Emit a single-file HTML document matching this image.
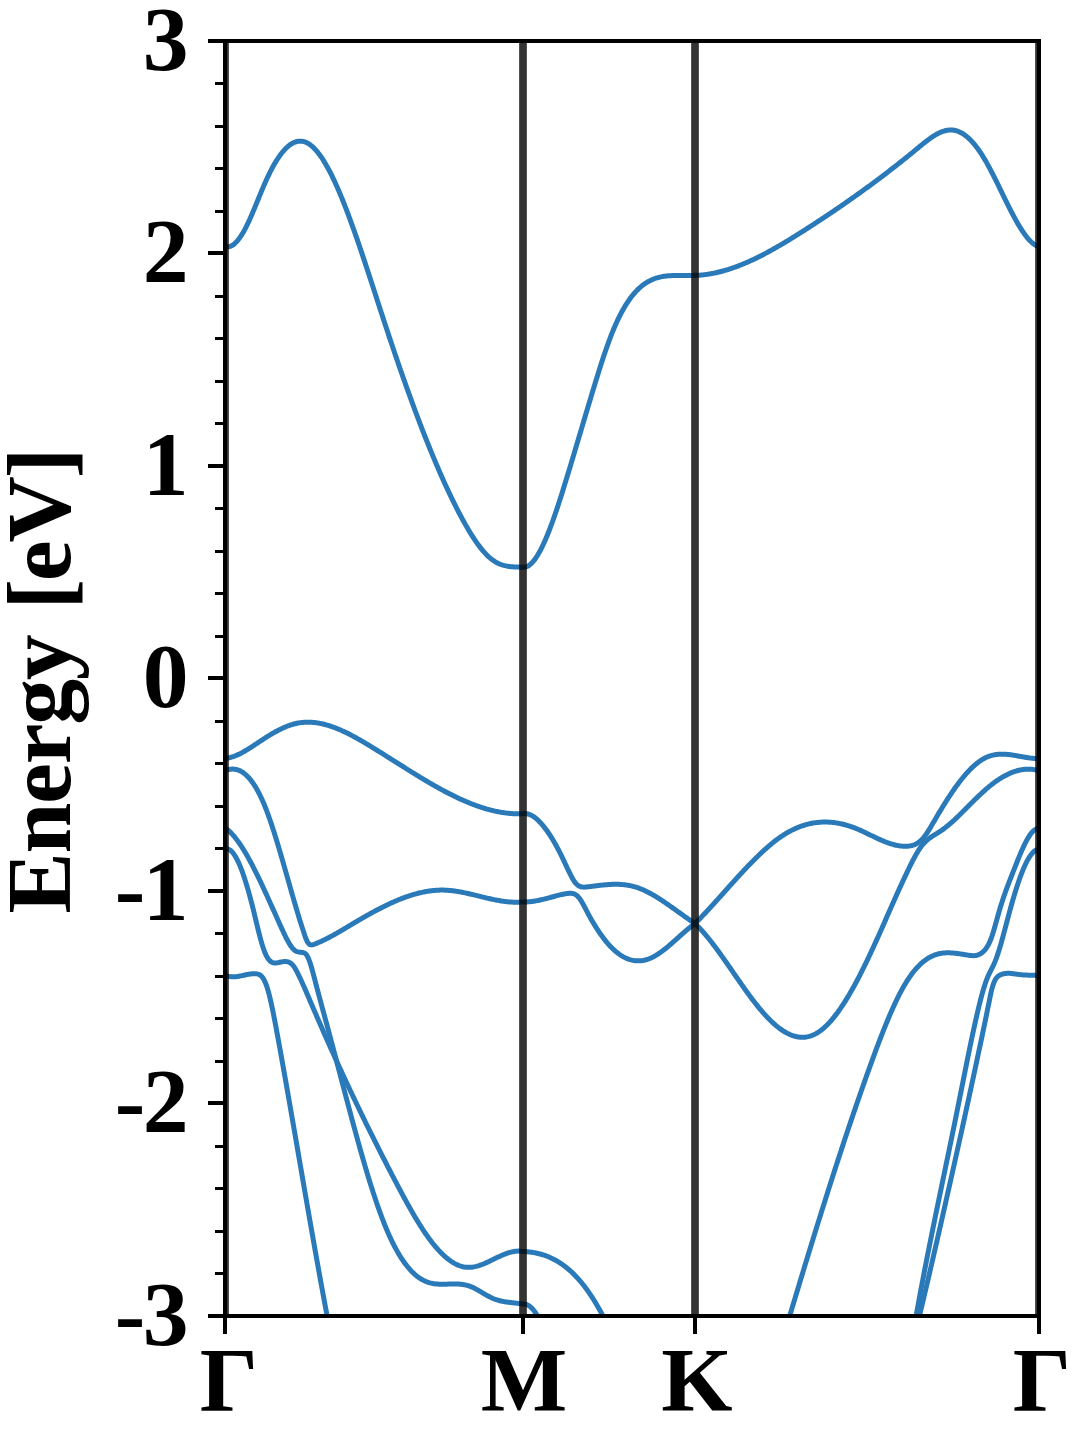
<!DOCTYPE html>
<html lang="en">
<head>
<meta charset="utf-8">
<title>Band structure</title>
<style>
html,body{margin:0;padding:0;background:#fff;}
body{width:1080px;height:1440px;overflow:hidden;}
svg{display:block;}
text{font-family:"Liberation Serif","DejaVu Serif",serif;font-weight:bold;fill:#000;}
</style>
</head>
<body>
<svg width="1080" height="1440" viewBox="0 0 1080 1440">
<rect width="1080" height="1440" fill="#fff"/>
<defs><clipPath id="ax"><rect x="225.5" y="41.0" width="813.0" height="1275.0"/></clipPath></defs>
<g clip-path="url(#ax)" fill="none" stroke="#2a7ab9" stroke-width="5.0" stroke-linejoin="round" stroke-linecap="butt">
<path d="M225,246.35 L226,246.64 L227,246.78 L228,246.80 L229,246.68 L230,246.42 L231,246.04 L232,245.54 L233,244.91 L234,244.17 L235,243.31 L236,242.33 L237,241.25 L238,240.07 L239,238.78 L240,237.39 L241,235.91 L242,234.33 L243,232.66 L244,230.91 L245,229.07 L246,227.15 L247,225.15 L248,223.08 L249,220.94 L250,218.74 L251,216.49 L252,214.18 L253,211.83 L254,209.45 L255,207.04 L256,204.62 L257,202.17 L258,199.72 L259,197.27 L260,194.83 L261,192.40 L262,190.00 L263,187.62 L264,185.27 L265,182.97 L266,180.72 L267,178.52 L268,176.38 L269,174.30 L270,172.27 L271,170.31 L272,168.41 L273,166.56 L274,164.78 L275,163.06 L276,161.39 L277,159.79 L278,158.26 L279,156.78 L280,155.37 L281,154.03 L282,152.74 L283,151.52 L284,150.37 L285,149.28 L286,148.26 L287,147.30 L288,146.42 L289,145.59 L290,144.84 L291,144.15 L292,143.54 L293,142.99 L294,142.51 L295,142.10 L296,141.77 L297,141.50 L298,141.30 L299,141.18 L300,141.13 L301,141.15 L302,141.24 L303,141.41 L304,141.65 L305,141.97 L306,142.36 L307,142.83 L308,143.37 L309,143.99 L310,144.68 L311,145.43 L312,146.26 L313,147.16 L314,148.13 L315,149.17 L316,150.27 L317,151.43 L318,152.66 L319,153.95 L320,155.31 L321,156.72 L322,158.20 L323,159.73 L324,161.32 L325,162.97 L326,164.67 L327,166.43 L328,168.24 L329,170.10 L330,172.01 L331,173.97 L332,175.98 L333,178.04 L334,180.15 L335,182.30 L336,184.49 L337,186.73 L338,189.01 L339,191.33 L340,193.70 L341,196.10 L342,198.54 L343,201.01 L344,203.52 L345,206.07 L346,208.65 L347,211.26 L348,213.91 L349,216.58 L350,219.29 L351,222.02 L352,224.78 L353,227.56 L354,230.37 L355,233.21 L356,236.07 L357,238.94 L358,241.84 L359,244.76 L360,247.70 L361,250.66 L362,253.63 L363,256.61 L364,259.62 L365,262.63 L366,265.66 L367,268.69 L368,271.74 L369,274.79 L370,277.86 L371,280.93 L372,284.00 L373,287.08 L374,290.17 L375,293.25 L376,296.34 L377,299.43 L378,302.51 L379,305.59 L380,308.68 L381,311.75 L382,314.82 L383,317.89 L384,320.95 L385,323.99 L386,327.03 L387,330.06 L388,333.08 L389,336.09 L390,339.09 L391,342.08 L392,345.06 L393,348.03 L394,350.98 L395,353.93 L396,356.87 L397,359.79 L398,362.70 L399,365.60 L400,368.49 L401,371.37 L402,374.23 L403,377.09 L404,379.93 L405,382.76 L406,385.57 L407,388.37 L408,391.16 L409,393.94 L410,396.70 L411,399.45 L412,402.19 L413,404.91 L414,407.62 L415,410.32 L416,413.00 L417,415.66 L418,418.32 L419,420.95 L420,423.58 L421,426.18 L422,428.78 L423,431.35 L424,433.92 L425,436.46 L426,438.99 L427,441.51 L428,444.01 L429,446.49 L430,448.96 L431,451.41 L432,453.84 L433,456.26 L434,458.66 L435,461.04 L436,463.41 L437,465.76 L438,468.09 L439,470.40 L440,472.70 L441,474.98 L442,477.24 L443,479.48 L444,481.70 L445,483.91 L446,486.09 L447,488.26 L448,490.41 L449,492.54 L450,494.65 L451,496.74 L452,498.81 L453,500.86 L454,502.89 L455,504.91 L456,506.90 L457,508.87 L458,510.82 L459,512.75 L460,514.66 L461,516.54 L462,518.41 L463,520.25 L464,522.06 L465,523.85 L466,525.62 L467,527.36 L468,529.07 L469,530.75 L470,532.40 L471,534.02 L472,535.61 L473,537.17 L474,538.70 L475,540.19 L476,541.65 L477,543.07 L478,544.45 L479,545.80 L480,547.11 L481,548.38 L482,549.61 L483,550.80 L484,551.95 L485,553.06 L486,554.12 L487,555.14 L488,556.12 L489,557.05 L490,557.93 L491,558.76 L492,559.55 L493,560.29 L494,560.98 L495,561.61 L496,562.20 L497,562.75 L498,563.25 L499,563.70 L500,564.12 L501,564.50 L502,564.84 L503,565.15 L504,565.43 L505,565.68 L506,565.90 L507,566.09 L508,566.26 L509,566.41 L510,566.53 L511,566.64 L512,566.74 L513,566.82 L514,566.89 L515,566.94 L516,567.00 L517,567.04 L518,567.08 L519,567.12 L520,567.16 L521,567.20 L522,567.25 L523,567.30 L524,567.31 L525,567.19 L526,566.93 L527,566.54 L528,566.03 L529,565.39 L530,564.63 L531,563.76 L532,562.77 L533,561.66 L534,560.45 L535,559.13 L536,557.70 L537,556.18 L538,554.55 L539,552.83 L540,551.02 L541,549.11 L542,547.12 L543,545.04 L544,542.89 L545,540.65 L546,538.34 L547,535.95 L548,533.49 L549,530.96 L550,528.37 L551,525.72 L552,523.01 L553,520.24 L554,517.41 L555,514.54 L556,511.61 L557,508.65 L558,505.63 L559,502.58 L560,499.49 L561,496.37 L562,493.21 L563,490.03 L564,486.82 L565,483.59 L566,480.33 L567,477.06 L568,473.77 L569,470.47 L570,467.17 L571,463.85 L572,460.52 L573,457.19 L574,453.85 L575,450.50 L576,447.15 L577,443.80 L578,440.44 L579,437.08 L580,433.72 L581,430.36 L582,426.99 L583,423.63 L584,420.27 L585,416.92 L586,413.56 L587,410.21 L588,406.87 L589,403.53 L590,400.20 L591,396.88 L592,393.56 L593,390.26 L594,386.96 L595,383.68 L596,380.42 L597,377.18 L598,373.96 L599,370.77 L600,367.61 L601,364.48 L602,361.39 L603,358.34 L604,355.33 L605,352.37 L606,349.46 L607,346.60 L608,343.79 L609,341.04 L610,338.36 L611,335.74 L612,333.19 L613,330.70 L614,328.29 L615,325.96 L616,323.69 L617,321.49 L618,319.36 L619,317.29 L620,315.30 L621,313.36 L622,311.49 L623,309.68 L624,307.94 L625,306.25 L626,304.63 L627,303.06 L628,301.55 L629,300.09 L630,298.69 L631,297.35 L632,296.06 L633,294.82 L634,293.63 L635,292.49 L636,291.40 L637,290.35 L638,289.36 L639,288.40 L640,287.50 L641,286.63 L642,285.81 L643,285.03 L644,284.29 L645,283.59 L646,282.93 L647,282.31 L648,281.72 L649,281.16 L650,280.64 L651,280.15 L652,279.70 L653,279.27 L654,278.87 L655,278.50 L656,278.16 L657,277.85 L658,277.56 L659,277.30 L660,277.06 L661,276.84 L662,276.64 L663,276.46 L664,276.30 L665,276.16 L666,276.04 L667,275.93 L668,275.84 L669,275.76 L670,275.70 L671,275.65 L672,275.61 L673,275.57 L674,275.55 L675,275.53 L676,275.52 L677,275.52 L678,275.52 L679,275.53 L680,275.54 L681,275.55 L682,275.56 L683,275.56 L684,275.57 L685,275.58 L686,275.58 L687,275.58 L688,275.57 L689,275.55 L690,275.53 L691,275.50 L692,275.45 L693,275.40 L694,275.34 L695,275.26 L696,275.40 L697,275.35 L698,275.29 L699,275.23 L700,275.15 L701,275.07 L702,274.98 L703,274.87 L704,274.76 L705,274.64 L706,274.51 L707,274.37 L708,274.22 L709,274.07 L710,273.90 L711,273.73 L712,273.54 L713,273.35 L714,273.15 L715,272.94 L716,272.73 L717,272.50 L718,272.27 L719,272.03 L720,271.78 L721,271.53 L722,271.26 L723,270.99 L724,270.71 L725,270.42 L726,270.13 L727,269.83 L728,269.52 L729,269.20 L730,268.88 L731,268.55 L732,268.21 L733,267.87 L734,267.51 L735,267.16 L736,266.79 L737,266.42 L738,266.04 L739,265.66 L740,265.27 L741,264.87 L742,264.47 L743,264.06 L744,263.64 L745,263.22 L746,262.79 L747,262.36 L748,261.92 L749,261.48 L750,261.03 L751,260.57 L752,260.11 L753,259.64 L754,259.17 L755,258.69 L756,258.21 L757,257.72 L758,257.23 L759,256.73 L760,256.23 L761,255.72 L762,255.21 L763,254.70 L764,254.17 L765,253.65 L766,253.12 L767,252.59 L768,252.05 L769,251.51 L770,250.96 L771,250.41 L772,249.86 L773,249.30 L774,248.74 L775,248.17 L776,247.60 L777,247.03 L778,246.45 L779,245.87 L780,245.29 L781,244.71 L782,244.12 L783,243.52 L784,242.93 L785,242.33 L786,241.73 L787,241.13 L788,240.52 L789,239.91 L790,239.30 L791,238.69 L792,238.07 L793,237.45 L794,236.83 L795,236.21 L796,235.59 L797,234.96 L798,234.33 L799,233.70 L800,233.07 L801,232.44 L802,231.80 L803,231.16 L804,230.53 L805,229.89 L806,229.25 L807,228.60 L808,227.96 L809,227.32 L810,226.67 L811,226.02 L812,225.38 L813,224.73 L814,224.08 L815,223.42 L816,222.77 L817,222.12 L818,221.46 L819,220.81 L820,220.15 L821,219.49 L822,218.83 L823,218.17 L824,217.50 L825,216.84 L826,216.17 L827,215.51 L828,214.84 L829,214.17 L830,213.50 L831,212.82 L832,212.15 L833,211.47 L834,210.80 L835,210.12 L836,209.44 L837,208.76 L838,208.08 L839,207.39 L840,206.71 L841,206.02 L842,205.33 L843,204.64 L844,203.95 L845,203.26 L846,202.56 L847,201.87 L848,201.17 L849,200.47 L850,199.77 L851,199.07 L852,198.36 L853,197.66 L854,196.95 L855,196.24 L856,195.53 L857,194.82 L858,194.10 L859,193.39 L860,192.67 L861,191.95 L862,191.23 L863,190.51 L864,189.79 L865,189.06 L866,188.34 L867,187.61 L868,186.88 L869,186.14 L870,185.41 L871,184.67 L872,183.94 L873,183.20 L874,182.46 L875,181.71 L876,180.97 L877,180.22 L878,179.47 L879,178.72 L880,177.97 L881,177.22 L882,176.46 L883,175.71 L884,174.95 L885,174.19 L886,173.42 L887,172.66 L888,171.89 L889,171.12 L890,170.35 L891,169.58 L892,168.80 L893,168.03 L894,167.25 L895,166.47 L896,165.68 L897,164.90 L898,164.11 L899,163.32 L900,162.53 L901,161.74 L902,160.95 L903,160.15 L904,159.35 L905,158.55 L906,157.75 L907,156.94 L908,156.13 L909,155.33 L910,154.51 L911,153.70 L912,152.88 L913,152.07 L914,151.25 L915,150.43 L916,149.60 L917,148.77 L918,147.95 L919,147.12 L920,146.30 L921,145.47 L922,144.66 L923,143.85 L924,143.05 L925,142.25 L926,141.47 L927,140.70 L928,139.95 L929,139.21 L930,138.49 L931,137.78 L932,137.10 L933,136.44 L934,135.80 L935,135.19 L936,134.60 L937,134.04 L938,133.51 L939,133.01 L940,132.54 L941,132.11 L942,131.71 L943,131.35 L944,131.03 L945,130.74 L946,130.50 L947,130.30 L948,130.15 L949,130.04 L950,129.98 L951,129.97 L952,130.00 L953,130.09 L954,130.24 L955,130.43 L956,130.68 L957,130.98 L958,131.33 L959,131.73 L960,132.19 L961,132.69 L962,133.25 L963,133.86 L964,134.52 L965,135.23 L966,135.99 L967,136.81 L968,137.67 L969,138.58 L970,139.54 L971,140.56 L972,141.62 L973,142.73 L974,143.89 L975,145.10 L976,146.36 L977,147.67 L978,149.03 L979,150.44 L980,151.89 L981,153.40 L982,154.95 L983,156.55 L984,158.19 L985,159.88 L986,161.61 L987,163.39 L988,165.19 L989,167.03 L990,168.91 L991,170.81 L992,172.74 L993,174.69 L994,176.66 L995,178.66 L996,180.67 L997,182.69 L998,184.72 L999,186.77 L1000,188.82 L1001,190.87 L1002,192.93 L1003,194.98 L1004,197.03 L1005,199.07 L1006,201.11 L1007,203.13 L1008,205.14 L1009,207.13 L1010,209.11 L1011,211.06 L1012,212.99 L1013,214.89 L1014,216.76 L1015,218.61 L1016,220.41 L1017,222.19 L1018,223.92 L1019,225.61 L1020,227.25 L1021,228.85 L1022,230.41 L1023,231.90 L1024,233.35 L1025,234.74 L1026,236.07 L1027,237.33 L1028,238.53 L1029,239.67 L1030,240.74 L1031,241.73 L1032,242.65 L1033,243.49 L1034,244.26 L1035,244.94 L1036,245.54 L1037,246.05 L1038,246.47 L1039,246.80"/>
<path d="M226,758.36 L227,758.20 L228,758.02 L229,757.80 L230,757.56 L231,757.28 L232,756.98 L233,756.65 L234,756.30 L235,755.92 L236,755.52 L237,755.09 L238,754.64 L239,754.17 L240,753.69 L241,753.18 L242,752.66 L243,752.11 L244,751.56 L245,750.99 L246,750.40 L247,749.81 L248,749.20 L249,748.58 L250,747.95 L251,747.31 L252,746.67 L253,746.02 L254,745.36 L255,744.70 L256,744.03 L257,743.37 L258,742.70 L259,742.03 L260,741.36 L261,740.70 L262,740.04 L263,739.38 L264,738.72 L265,738.07 L266,737.43 L267,736.80 L268,736.17 L269,735.55 L270,734.94 L271,734.34 L272,733.75 L273,733.16 L274,732.59 L275,732.03 L276,731.48 L277,730.94 L278,730.42 L279,729.90 L280,729.40 L281,728.91 L282,728.44 L283,727.98 L284,727.53 L285,727.10 L286,726.69 L287,726.29 L288,725.91 L289,725.54 L290,725.19 L291,724.86 L292,724.55 L293,724.26 L294,723.98 L295,723.73 L296,723.49 L297,723.27 L298,723.08 L299,722.90 L300,722.75 L301,722.61 L302,722.49 L303,722.40 L304,722.32 L305,722.26 L306,722.21 L307,722.19 L308,722.18 L309,722.19 L310,722.22 L311,722.26 L312,722.32 L313,722.40 L314,722.49 L315,722.60 L316,722.73 L317,722.87 L318,723.03 L319,723.20 L320,723.38 L321,723.58 L322,723.80 L323,724.03 L324,724.27 L325,724.52 L326,724.79 L327,725.08 L328,725.37 L329,725.68 L330,726.00 L331,726.33 L332,726.67 L333,727.03 L334,727.39 L335,727.77 L336,728.16 L337,728.55 L338,728.96 L339,729.38 L340,729.81 L341,730.25 L342,730.69 L343,731.15 L344,731.61 L345,732.09 L346,732.57 L347,733.06 L348,733.56 L349,734.06 L350,734.57 L351,735.09 L352,735.62 L353,736.15 L354,736.69 L355,737.23 L356,737.78 L357,738.34 L358,738.90 L359,739.47 L360,740.04 L361,740.62 L362,741.20 L363,741.78 L364,742.37 L365,742.96 L366,743.55 L367,744.15 L368,744.75 L369,745.36 L370,745.96 L371,746.57 L372,747.18 L373,747.79 L374,748.40 L375,749.02 L376,749.64 L377,750.25 L378,750.87 L379,751.50 L380,752.12 L381,752.74 L382,753.37 L383,753.99 L384,754.62 L385,755.25 L386,755.88 L387,756.51 L388,757.14 L389,757.77 L390,758.40 L391,759.03 L392,759.66 L393,760.29 L394,760.93 L395,761.56 L396,762.19 L397,762.82 L398,763.46 L399,764.09 L400,764.72 L401,765.35 L402,765.98 L403,766.61 L404,767.24 L405,767.87 L406,768.50 L407,769.13 L408,769.75 L409,770.38 L410,771.00 L411,771.62 L412,772.25 L413,772.87 L414,773.48 L415,774.10 L416,774.72 L417,775.33 L418,775.94 L419,776.55 L420,777.16 L421,777.77 L422,778.37 L423,778.97 L424,779.57 L425,780.17 L426,780.76 L427,781.35 L428,781.94 L429,782.53 L430,783.11 L431,783.69 L432,784.27 L433,784.85 L434,785.42 L435,785.99 L436,786.55 L437,787.11 L438,787.67 L439,788.23 L440,788.78 L441,789.33 L442,789.87 L443,790.41 L444,790.94 L445,791.48 L446,792.00 L447,792.53 L448,793.05 L449,793.56 L450,794.07 L451,794.58 L452,795.08 L453,795.58 L454,796.07 L455,796.55 L456,797.04 L457,797.51 L458,797.99 L459,798.45 L460,798.91 L461,799.37 L462,799.82 L463,800.26 L464,800.70 L465,801.14 L466,801.57 L467,801.99 L468,802.40 L469,802.81 L470,803.22 L471,803.62 L472,804.01 L473,804.39 L474,804.77 L475,805.15 L476,805.51 L477,805.87 L478,806.22 L479,806.57 L480,806.91 L481,807.24 L482,807.56 L483,807.88 L484,808.19 L485,808.49 L486,808.79 L487,809.08 L488,809.36 L489,809.63 L490,809.89 L491,810.15 L492,810.40 L493,810.64 L494,810.87 L495,811.10 L496,811.32 L497,811.52 L498,811.72 L499,811.92 L500,812.10 L501,812.27 L502,812.44 L503,812.59 L504,812.74 L505,812.88 L506,813.01 L507,813.13 L508,813.24 L509,813.35 L510,813.44 L511,813.52 L512,813.59 L513,813.66 L514,813.71 L515,813.76 L516,813.79 L517,813.82 L518,813.83 L519,813.83 L520,813.83 L521,813.81 L522,813.79 L523,813.75 L524,813.60 L525,813.57 L526,813.63 L527,813.77 L528,813.99 L529,814.29 L530,814.66 L531,815.11 L532,815.63 L533,816.23 L534,816.89 L535,817.62 L536,818.41 L537,819.27 L538,820.19 L539,821.16 L540,822.19 L541,823.28 L542,824.42 L543,825.61 L544,826.85 L545,828.13 L546,829.46 L547,830.84 L548,832.26 L549,833.73 L550,835.24 L551,836.80 L552,838.40 L553,840.05 L554,841.75 L555,843.49 L556,845.27 L557,847.11 L558,848.98 L559,850.90 L560,852.87 L561,854.88 L562,856.93 L563,859.02 L564,861.13 L565,863.25 L566,865.38 L567,867.50 L568,869.60 L569,871.68 L570,873.72 L571,875.70 L572,877.58 L573,879.34 L574,880.95 L575,882.37 L576,883.58 L577,884.58 L578,885.38 L579,886.01 L580,886.47 L581,886.80 L582,887.01 L583,887.11 L584,887.14 L585,887.10 L586,887.01 L587,886.90 L588,886.79 L589,886.66 L590,886.54 L591,886.42 L592,886.30 L593,886.17 L594,886.05 L595,885.92 L596,885.80 L597,885.68 L598,885.56 L599,885.44 L600,885.33 L601,885.22 L602,885.11 L603,885.01 L604,884.92 L605,884.82 L606,884.74 L607,884.66 L608,884.59 L609,884.52 L610,884.46 L611,884.41 L612,884.37 L613,884.34 L614,884.32 L615,884.30 L616,884.30 L617,884.31 L618,884.33 L619,884.36 L620,884.41 L621,884.46 L622,884.53 L623,884.62 L624,884.71 L625,884.83 L626,884.95 L627,885.10 L628,885.26 L629,885.43 L630,885.63 L631,885.84 L632,886.06 L633,886.31 L634,886.58 L635,886.86 L636,887.17 L637,887.49 L638,887.83 L639,888.19 L640,888.57 L641,888.97 L642,889.38 L643,889.81 L644,890.26 L645,890.72 L646,891.20 L647,891.69 L648,892.19 L649,892.71 L650,893.24 L651,893.79 L652,894.35 L653,894.92 L654,895.50 L655,896.09 L656,896.69 L657,897.31 L658,897.93 L659,898.56 L660,899.20 L661,899.85 L662,900.50 L663,901.17 L664,901.84 L665,902.52 L666,903.20 L667,903.89 L668,904.58 L669,905.28 L670,905.98 L671,906.68 L672,907.39 L673,908.10 L674,908.81 L675,909.53 L676,910.24 L677,910.96 L678,911.68 L679,912.39 L680,913.11 L681,913.83 L682,914.54 L683,915.25 L684,915.96 L685,916.67 L686,917.37 L687,918.07 L688,918.76 L689,919.45 L690,920.14 L691,920.82 L692,921.49 L693,922.16 L694,922.82 L695,923.47 L696,924.47 L697,925.46 L698,926.47 L699,927.50 L700,928.55 L701,929.63 L702,930.74 L703,931.86 L704,933.00 L705,934.17 L706,935.35 L707,936.55 L708,937.77 L709,939.01 L710,940.26 L711,941.53 L712,942.82 L713,944.12 L714,945.43 L715,946.76 L716,948.10 L717,949.45 L718,950.82 L719,952.19 L720,953.57 L721,954.97 L722,956.37 L723,957.78 L724,959.19 L725,960.61 L726,962.04 L727,963.47 L728,964.91 L729,966.35 L730,967.79 L731,969.24 L732,970.69 L733,972.14 L734,973.58 L735,975.03 L736,976.48 L737,977.92 L738,979.36 L739,980.80 L740,982.24 L741,983.67 L742,985.09 L743,986.51 L744,987.92 L745,989.33 L746,990.73 L747,992.11 L748,993.49 L749,994.86 L750,996.22 L751,997.56 L752,998.90 L753,1000.22 L754,1001.52 L755,1002.81 L756,1004.09 L757,1005.35 L758,1006.60 L759,1007.83 L760,1009.04 L761,1010.23 L762,1011.40 L763,1012.56 L764,1013.69 L765,1014.80 L766,1015.89 L767,1016.96 L768,1018.01 L769,1019.03 L770,1020.03 L771,1021.01 L772,1021.97 L773,1022.90 L774,1023.80 L775,1024.68 L776,1025.53 L777,1026.36 L778,1027.16 L779,1027.94 L780,1028.68 L781,1029.40 L782,1030.09 L783,1030.76 L784,1031.39 L785,1031.99 L786,1032.57 L787,1033.11 L788,1033.62 L789,1034.10 L790,1034.55 L791,1034.96 L792,1035.35 L793,1035.70 L794,1036.01 L795,1036.30 L796,1036.54 L797,1036.76 L798,1036.94 L799,1037.08 L800,1037.18 L801,1037.25 L802,1037.28 L803,1037.28 L804,1037.24 L805,1037.15 L806,1037.03 L807,1036.87 L808,1036.67 L809,1036.43 L810,1036.15 L811,1035.83 L812,1035.47 L813,1035.06 L814,1034.61 L815,1034.12 L816,1033.59 L817,1033.01 L818,1032.39 L819,1031.73 L820,1031.03 L821,1030.29 L822,1029.51 L823,1028.68 L824,1027.82 L825,1026.92 L826,1025.98 L827,1025.01 L828,1023.99 L829,1022.94 L830,1021.85 L831,1020.73 L832,1019.57 L833,1018.38 L834,1017.15 L835,1015.89 L836,1014.60 L837,1013.27 L838,1011.91 L839,1010.52 L840,1009.10 L841,1007.65 L842,1006.17 L843,1004.65 L844,1003.11 L845,1001.54 L846,999.94 L847,998.32 L848,996.66 L849,994.98 L850,993.28 L851,991.55 L852,989.79 L853,988.01 L854,986.20 L855,984.37 L856,982.52 L857,980.64 L858,978.74 L859,976.82 L860,974.88 L861,972.92 L862,970.94 L863,968.94 L864,966.92 L865,964.88 L866,962.82 L867,960.75 L868,958.65 L869,956.55 L870,954.42 L871,952.28 L872,950.13 L873,947.96 L874,945.77 L875,943.58 L876,941.37 L877,939.15 L878,936.92 L879,934.69 L880,932.44 L881,930.19 L882,927.94 L883,925.67 L884,923.41 L885,921.14 L886,918.87 L887,916.60 L888,914.33 L889,912.06 L890,909.79 L891,907.52 L892,905.25 L893,903.00 L894,900.74 L895,898.50 L896,896.26 L897,894.02 L898,891.80 L899,889.59 L900,887.39 L901,885.20 L902,883.02 L903,880.86 L904,878.71 L905,876.58 L906,874.46 L907,872.37 L908,870.29 L909,868.23 L910,866.19 L911,864.17 L912,862.18 L913,860.22 L914,858.30 L915,856.43 L916,854.62 L917,852.88 L918,851.22 L919,849.64 L920,848.15 L921,846.76 L922,845.47 L923,844.27 L924,843.15 L925,842.11 L926,841.13 L927,840.23 L928,839.38 L929,838.59 L930,837.84 L931,837.13 L932,836.45 L933,835.80 L934,835.17 L935,834.55 L936,833.94 L937,833.33 L938,832.72 L939,832.09 L940,831.44 L941,830.78 L942,830.08 L943,829.37 L944,828.63 L945,827.87 L946,827.09 L947,826.29 L948,825.48 L949,824.64 L950,823.79 L951,822.92 L952,822.04 L953,821.14 L954,820.23 L955,819.31 L956,818.38 L957,817.43 L958,816.48 L959,815.51 L960,814.54 L961,813.56 L962,812.57 L963,811.58 L964,810.59 L965,809.58 L966,808.58 L967,807.58 L968,806.57 L969,805.56 L970,804.56 L971,803.55 L972,802.55 L973,801.55 L974,800.56 L975,799.57 L976,798.58 L977,797.60 L978,796.63 L979,795.67 L980,794.72 L981,793.78 L982,792.84 L983,791.92 L984,791.02 L985,790.12 L986,789.24 L987,788.38 L988,787.53 L989,786.70 L990,785.88 L991,785.08 L992,784.30 L993,783.53 L994,782.78 L995,782.04 L996,781.32 L997,780.63 L998,779.94 L999,779.28 L1000,778.64 L1001,778.01 L1002,777.40 L1003,776.82 L1004,776.25 L1005,775.70 L1006,775.17 L1007,774.66 L1008,774.18 L1009,773.71 L1010,773.26 L1011,772.84 L1012,772.44 L1013,772.06 L1014,771.70 L1015,771.36 L1016,771.05 L1017,770.76 L1018,770.50 L1019,770.25 L1020,770.03 L1021,769.84 L1022,769.67 L1023,769.52 L1024,769.40 L1025,769.30 L1026,769.23 L1027,769.19 L1028,769.17 L1029,769.17 L1030,769.21 L1031,769.27 L1032,769.35 L1033,769.47 L1034,769.61 L1035,769.78 L1036,769.98 L1037,770.20 L1038,770.46 L1039,770.74"/>
<path d="M226,770.30 L227,769.96 L228,769.67 L229,769.43 L230,769.26 L231,769.14 L232,769.08 L233,769.08 L234,769.14 L235,769.26 L236,769.44 L237,769.69 L238,770.00 L239,770.38 L240,770.83 L241,771.34 L242,771.92 L243,772.57 L244,773.29 L245,774.09 L246,774.95 L247,775.89 L248,776.91 L249,778.00 L250,779.16 L251,780.41 L252,781.73 L253,783.13 L254,784.61 L255,786.17 L256,787.82 L257,789.55 L258,791.36 L259,793.26 L260,795.25 L261,797.32 L262,799.48 L263,801.73 L264,804.07 L265,806.51 L266,809.03 L267,811.64 L268,814.34 L269,817.11 L270,819.97 L271,822.89 L272,825.88 L273,828.94 L274,832.05 L275,835.23 L276,838.45 L277,841.72 L278,845.03 L279,848.38 L280,851.77 L281,855.19 L282,858.64 L283,862.11 L284,865.59 L285,869.10 L286,872.61 L287,876.13 L288,879.65 L289,883.17 L290,886.69 L291,890.20 L292,893.69 L293,897.16 L294,900.61 L295,904.04 L296,907.44 L297,910.80 L298,914.12 L299,917.40 L300,920.64 L301,923.82 L302,926.96 L303,930.05 L304,933.08 L305,936.06 L306,938.82 L307,941.09 L308,942.75 L309,943.88 L310,944.56 L311,944.86 L312,944.88 L313,944.68 L314,944.36 L315,943.97 L316,943.58 L317,943.17 L318,942.75 L319,942.32 L320,941.88 L321,941.43 L322,940.96 L323,940.49 L324,940.01 L325,939.52 L326,939.02 L327,938.52 L328,938.00 L329,937.48 L330,936.95 L331,936.41 L332,935.87 L333,935.32 L334,934.76 L335,934.20 L336,933.64 L337,933.07 L338,932.49 L339,931.91 L340,931.33 L341,930.75 L342,930.16 L343,929.57 L344,928.98 L345,928.38 L346,927.78 L347,927.19 L348,926.59 L349,925.99 L350,925.39 L351,924.80 L352,924.20 L353,923.60 L354,923.01 L355,922.42 L356,921.83 L357,921.24 L358,920.65 L359,920.06 L360,919.48 L361,918.90 L362,918.32 L363,917.74 L364,917.17 L365,916.60 L366,916.03 L367,915.46 L368,914.90 L369,914.34 L370,913.79 L371,913.23 L372,912.69 L373,912.14 L374,911.60 L375,911.06 L376,910.53 L377,910.00 L378,909.47 L379,908.95 L380,908.43 L381,907.92 L382,907.41 L383,906.91 L384,906.41 L385,905.92 L386,905.43 L387,904.95 L388,904.47 L389,904.00 L390,903.54 L391,903.08 L392,902.63 L393,902.18 L394,901.74 L395,901.30 L396,900.87 L397,900.45 L398,900.03 L399,899.62 L400,899.22 L401,898.83 L402,898.44 L403,898.06 L404,897.68 L405,897.32 L406,896.96 L407,896.61 L408,896.27 L409,895.93 L410,895.60 L411,895.28 L412,894.97 L413,894.67 L414,894.38 L415,894.09 L416,893.82 L417,893.55 L418,893.29 L419,893.04 L420,892.80 L421,892.57 L422,892.35 L423,892.14 L424,891.94 L425,891.74 L426,891.56 L427,891.39 L428,891.23 L429,891.08 L430,890.94 L431,890.80 L432,890.69 L433,890.58 L434,890.48 L435,890.39 L436,890.31 L437,890.25 L438,890.20 L439,890.15 L440,890.12 L441,890.11 L442,890.10 L443,890.10 L444,890.12 L445,890.15 L446,890.19 L447,890.25 L448,890.31 L449,890.39 L450,890.48 L451,890.58 L452,890.68 L453,890.80 L454,890.93 L455,891.07 L456,891.21 L457,891.37 L458,891.53 L459,891.70 L460,891.87 L461,892.06 L462,892.25 L463,892.44 L464,892.65 L465,892.85 L466,893.07 L467,893.28 L468,893.51 L469,893.73 L470,893.96 L471,894.19 L472,894.43 L473,894.67 L474,894.91 L475,895.15 L476,895.40 L477,895.64 L478,895.89 L479,896.13 L480,896.38 L481,896.62 L482,896.87 L483,897.11 L484,897.36 L485,897.60 L486,897.84 L487,898.07 L488,898.31 L489,898.54 L490,898.76 L491,898.99 L492,899.20 L493,899.42 L494,899.63 L495,899.83 L496,900.03 L497,900.22 L498,900.41 L499,900.58 L500,900.75 L501,900.92 L502,901.07 L503,901.22 L504,901.36 L505,901.49 L506,901.61 L507,901.72 L508,901.82 L509,901.91 L510,901.99 L511,902.06 L512,902.11 L513,902.16 L514,902.19 L515,902.21 L516,902.22 L517,902.21 L518,902.19 L519,902.16 L520,902.11 L521,902.04 L522,901.97 L523,901.87 L524,901.96 L525,901.96 L526,901.94 L527,901.90 L528,901.84 L529,901.77 L530,901.68 L531,901.58 L532,901.46 L533,901.32 L534,901.17 L535,901.01 L536,900.84 L537,900.65 L538,900.46 L539,900.25 L540,900.04 L541,899.81 L542,899.58 L543,899.34 L544,899.10 L545,898.85 L546,898.59 L547,898.34 L548,898.07 L549,897.81 L550,897.54 L551,897.27 L552,897.00 L553,896.74 L554,896.47 L555,896.20 L556,895.94 L557,895.68 L558,895.43 L559,895.18 L560,894.93 L561,894.69 L562,894.46 L563,894.24 L564,894.03 L565,893.85 L566,893.68 L567,893.54 L568,893.44 L569,893.36 L570,893.33 L571,893.33 L572,893.40 L573,893.55 L574,893.83 L575,894.27 L576,894.87 L577,895.64 L578,896.60 L579,897.76 L580,899.10 L581,900.62 L582,902.27 L583,904.03 L584,905.87 L585,907.75 L586,909.66 L587,911.57 L588,913.46 L589,915.32 L590,917.14 L591,918.92 L592,920.66 L593,922.37 L594,924.03 L595,925.67 L596,927.26 L597,928.83 L598,930.36 L599,931.86 L600,933.33 L601,934.76 L602,936.15 L603,937.51 L604,938.83 L605,940.12 L606,941.36 L607,942.57 L608,943.75 L609,944.88 L610,945.97 L611,947.02 L612,948.03 L613,949.01 L614,949.94 L615,950.83 L616,951.69 L617,952.51 L618,953.28 L619,954.02 L620,954.72 L621,955.38 L622,956.00 L623,956.59 L624,957.13 L625,957.64 L626,958.11 L627,958.55 L628,958.94 L629,959.30 L630,959.62 L631,959.90 L632,960.15 L633,960.36 L634,960.53 L635,960.67 L636,960.77 L637,960.83 L638,960.86 L639,960.85 L640,960.80 L641,960.72 L642,960.60 L643,960.45 L644,960.26 L645,960.04 L646,959.78 L647,959.49 L648,959.16 L649,958.80 L650,958.40 L651,957.97 L652,957.50 L653,957.01 L654,956.48 L655,955.92 L656,955.34 L657,954.72 L658,954.09 L659,953.42 L660,952.74 L661,952.03 L662,951.30 L663,950.55 L664,949.78 L665,948.99 L666,948.19 L667,947.38 L668,946.55 L669,945.71 L670,944.85 L671,943.99 L672,943.12 L673,942.24 L674,941.35 L675,940.46 L676,939.57 L677,938.67 L678,937.78 L679,936.88 L680,935.98 L681,935.09 L682,934.20 L683,933.31 L684,932.43 L685,931.56 L686,930.70 L687,929.84 L688,929.00 L689,928.17 L690,927.35 L691,926.55 L692,925.76 L693,924.99 L694,924.24 L695,923.51 L696,922.49 L697,921.49 L698,920.48 L699,919.47 L700,918.44 L701,917.41 L702,916.37 L703,915.33 L704,914.28 L705,913.22 L706,912.16 L707,911.09 L708,910.02 L709,908.94 L710,907.85 L711,906.77 L712,905.68 L713,904.58 L714,903.48 L715,902.38 L716,901.27 L717,900.17 L718,899.06 L719,897.95 L720,896.83 L721,895.72 L722,894.60 L723,893.48 L724,892.36 L725,891.24 L726,890.13 L727,889.01 L728,887.89 L729,886.77 L730,885.66 L731,884.54 L732,883.43 L733,882.32 L734,881.21 L735,880.10 L736,878.99 L737,877.89 L738,876.79 L739,875.70 L740,874.61 L741,873.52 L742,872.44 L743,871.36 L744,870.29 L745,869.22 L746,868.16 L747,867.10 L748,866.05 L749,865.01 L750,863.97 L751,862.94 L752,861.92 L753,860.91 L754,859.90 L755,858.90 L756,857.91 L757,856.93 L758,855.95 L759,854.99 L760,854.03 L761,853.09 L762,852.15 L763,851.23 L764,850.31 L765,849.41 L766,848.52 L767,847.64 L768,846.77 L769,845.91 L770,845.06 L771,844.23 L772,843.41 L773,842.61 L774,841.81 L775,841.03 L776,840.27 L777,839.52 L778,838.78 L779,838.06 L780,837.35 L781,836.66 L782,835.99 L783,835.33 L784,834.68 L785,834.06 L786,833.45 L787,832.85 L788,832.28 L789,831.72 L790,831.17 L791,830.65 L792,830.14 L793,829.64 L794,829.16 L795,828.70 L796,828.25 L797,827.83 L798,827.41 L799,827.01 L800,826.63 L801,826.27 L802,825.91 L803,825.58 L804,825.26 L805,824.96 L806,824.67 L807,824.40 L808,824.14 L809,823.90 L810,823.67 L811,823.46 L812,823.26 L813,823.08 L814,822.91 L815,822.76 L816,822.62 L817,822.50 L818,822.39 L819,822.30 L820,822.22 L821,822.15 L822,822.10 L823,822.07 L824,822.05 L825,822.04 L826,822.04 L827,822.07 L828,822.10 L829,822.15 L830,822.21 L831,822.29 L832,822.38 L833,822.48 L834,822.60 L835,822.73 L836,822.87 L837,823.03 L838,823.20 L839,823.38 L840,823.58 L841,823.79 L842,824.02 L843,824.25 L844,824.50 L845,824.76 L846,825.04 L847,825.33 L848,825.63 L849,825.94 L850,826.26 L851,826.60 L852,826.95 L853,827.31 L854,827.69 L855,828.08 L856,828.47 L857,828.88 L858,829.30 L859,829.74 L860,830.17 L861,830.62 L862,831.08 L863,831.54 L864,832.00 L865,832.48 L866,832.95 L867,833.43 L868,833.91 L869,834.40 L870,834.88 L871,835.37 L872,835.85 L873,836.33 L874,836.81 L875,837.29 L876,837.76 L877,838.23 L878,838.70 L879,839.15 L880,839.60 L881,840.05 L882,840.48 L883,840.91 L884,841.32 L885,841.72 L886,842.11 L887,842.49 L888,842.86 L889,843.21 L890,843.55 L891,843.87 L892,844.17 L893,844.46 L894,844.73 L895,844.98 L896,845.21 L897,845.42 L898,845.61 L899,845.77 L900,845.91 L901,846.03 L902,846.13 L903,846.20 L904,846.24 L905,846.26 L906,846.25 L907,846.21 L908,846.14 L909,846.03 L910,845.89 L911,845.71 L912,845.48 L913,845.19 L914,844.85 L915,844.44 L916,843.97 L917,843.42 L918,842.79 L919,842.08 L920,841.28 L921,840.39 L922,839.41 L923,838.32 L924,837.12 L925,835.82 L926,834.44 L927,832.97 L928,831.44 L929,829.84 L930,828.20 L931,826.53 L932,824.83 L933,823.11 L934,821.39 L935,819.67 L936,817.96 L937,816.26 L938,814.57 L939,812.90 L940,811.23 L941,809.58 L942,807.94 L943,806.31 L944,804.70 L945,803.10 L946,801.52 L947,799.95 L948,798.40 L949,796.87 L950,795.35 L951,793.85 L952,792.37 L953,790.91 L954,789.47 L955,788.05 L956,786.66 L957,785.28 L958,783.93 L959,782.60 L960,781.29 L961,780.01 L962,778.75 L963,777.51 L964,776.31 L965,775.13 L966,773.97 L967,772.85 L968,771.75 L969,770.68 L970,769.64 L971,768.63 L972,767.66 L973,766.71 L974,765.79 L975,764.91 L976,764.06 L977,763.25 L978,762.46 L979,761.72 L980,761.01 L981,760.33 L982,759.69 L983,759.09 L984,758.53 L985,758.00 L986,757.51 L987,757.07 L988,756.65 L989,756.28 L990,755.94 L991,755.63 L992,755.36 L993,755.11 L994,754.90 L995,754.72 L996,754.56 L997,754.43 L998,754.33 L999,754.25 L1000,754.20 L1001,754.17 L1002,754.16 L1003,754.17 L1004,754.19 L1005,754.24 L1006,754.31 L1007,754.39 L1008,754.48 L1009,754.59 L1010,754.71 L1011,754.84 L1012,754.98 L1013,755.13 L1014,755.29 L1015,755.46 L1016,755.63 L1017,755.81 L1018,755.99 L1019,756.17 L1020,756.35 L1021,756.54 L1022,756.72 L1023,756.90 L1024,757.08 L1025,757.25 L1026,757.42 L1027,757.58 L1028,757.74 L1029,757.88 L1030,758.02 L1031,758.14 L1032,758.26 L1033,758.35 L1034,758.44 L1035,758.51 L1036,758.56 L1037,758.60 L1038,758.61 L1039,758.61"/>
<path d="M226,828.47 L227,829.24 L228,830.07 L229,830.95 L230,831.89 L231,832.89 L232,833.95 L233,835.06 L234,836.22 L235,837.43 L236,838.70 L237,840.01 L238,841.37 L239,842.77 L240,844.23 L241,845.72 L242,847.26 L243,848.84 L244,850.46 L245,852.11 L246,853.81 L247,855.54 L248,857.31 L249,859.11 L250,860.94 L251,862.80 L252,864.70 L253,866.62 L254,868.57 L255,870.54 L256,872.55 L257,874.57 L258,876.62 L259,878.68 L260,880.77 L261,882.87 L262,885.00 L263,887.14 L264,889.29 L265,891.46 L266,893.63 L267,895.82 L268,898.02 L269,900.23 L270,902.44 L271,904.66 L272,906.89 L273,909.12 L274,911.35 L275,913.58 L276,915.81 L277,918.03 L278,920.26 L279,922.48 L280,924.69 L281,926.90 L282,929.10 L283,931.28 L284,933.42 L285,935.52 L286,937.55 L287,939.50 L288,941.36 L289,943.11 L290,944.74 L291,946.24 L292,947.58 L293,948.76 L294,949.76 L295,950.57 L296,951.17 L297,951.61 L298,951.90 L299,952.09 L300,952.21 L301,952.31 L302,952.41 L303,952.57 L304,952.87 L305,953.41 L306,954.29 L307,955.62 L308,957.48 L309,959.84 L310,962.63 L311,965.77 L312,969.19 L313,972.81 L314,976.57 L315,980.41 L316,984.29 L317,988.14 L318,991.94 L319,995.70 L320,999.43 L321,1003.13 L322,1006.81 L323,1010.47 L324,1014.14 L325,1017.81 L326,1021.48 L327,1025.18 L328,1028.89 L329,1032.62 L330,1036.35 L331,1040.10 L332,1043.86 L333,1047.63 L334,1051.40 L335,1055.18 L336,1058.97 L337,1062.77 L338,1066.56 L339,1070.36 L340,1074.16 L341,1077.95 L342,1081.75 L343,1085.54 L344,1089.33 L345,1093.12 L346,1096.90 L347,1100.67 L348,1104.43 L349,1108.19 L350,1111.93 L351,1115.66 L352,1119.37 L353,1123.08 L354,1126.76 L355,1130.43 L356,1134.08 L357,1137.71 L358,1141.32 L359,1144.91 L360,1148.47 L361,1152.00 L362,1155.51 L363,1158.99 L364,1162.44 L365,1165.86 L366,1169.25 L367,1172.60 L368,1175.92 L369,1179.20 L370,1182.44 L371,1185.64 L372,1188.80 L373,1191.92 L374,1194.99 L375,1198.02 L376,1201.01 L377,1203.94 L378,1206.82 L379,1209.66 L380,1212.44 L381,1215.17 L382,1217.84 L383,1220.46 L384,1223.01 L385,1225.51 L386,1227.95 L387,1230.33 L388,1232.65 L389,1234.91 L390,1237.11 L391,1239.25 L392,1241.33 L393,1243.36 L394,1245.33 L395,1247.25 L396,1249.11 L397,1250.91 L398,1252.66 L399,1254.36 L400,1256.00 L401,1257.59 L402,1259.12 L403,1260.61 L404,1262.04 L405,1263.42 L406,1264.75 L407,1266.03 L408,1267.26 L409,1268.44 L410,1269.57 L411,1270.66 L412,1271.70 L413,1272.69 L414,1273.63 L415,1274.53 L416,1275.38 L417,1276.19 L418,1276.95 L419,1277.67 L420,1278.34 L421,1278.98 L422,1279.57 L423,1280.11 L424,1280.62 L425,1281.09 L426,1281.51 L427,1281.90 L428,1282.25 L429,1282.56 L430,1282.84 L431,1283.09 L432,1283.31 L433,1283.50 L434,1283.66 L435,1283.80 L436,1283.91 L437,1284.01 L438,1284.08 L439,1284.14 L440,1284.18 L441,1284.20 L442,1284.21 L443,1284.21 L444,1284.21 L445,1284.19 L446,1284.17 L447,1284.14 L448,1284.11 L449,1284.08 L450,1284.05 L451,1284.02 L452,1284.00 L453,1283.99 L454,1283.98 L455,1283.98 L456,1283.99 L457,1284.02 L458,1284.06 L459,1284.11 L460,1284.19 L461,1284.28 L462,1284.40 L463,1284.54 L464,1284.70 L465,1284.89 L466,1285.11 L467,1285.36 L468,1285.65 L469,1285.96 L470,1286.31 L471,1286.70 L472,1287.12 L473,1287.57 L474,1288.05 L475,1288.56 L476,1289.09 L477,1289.63 L478,1290.20 L479,1290.77 L480,1291.36 L481,1291.95 L482,1292.54 L483,1293.14 L484,1293.73 L485,1294.32 L486,1294.90 L487,1295.47 L488,1296.02 L489,1296.56 L490,1297.08 L491,1297.57 L492,1298.03 L493,1298.47 L494,1298.88 L495,1299.25 L496,1299.60 L497,1299.93 L498,1300.22 L499,1300.50 L500,1300.76 L501,1300.99 L502,1301.21 L503,1301.41 L504,1301.59 L505,1301.76 L506,1301.92 L507,1302.06 L508,1302.20 L509,1302.33 L510,1302.45 L511,1302.57 L512,1302.68 L513,1302.79 L514,1302.90 L515,1303.01 L516,1303.13 L517,1303.24 L518,1303.37 L519,1303.50 L520,1303.63 L521,1303.78 L522,1303.94 L523,1304.11 L524,1304.06 L525,1304.15 L526,1304.37 L527,1304.72 L528,1305.20 L529,1305.80 L530,1306.53 L531,1307.39 L532,1308.37 L533,1309.47 L534,1310.69 L535,1312.03 L536,1313.49 L537,1315.07 L538,1316.76 L539,1318.56 L540,1320.47 L541,1322.50"/>
<path d="M226,849.02 L227,848.97 L228,849.14 L229,849.51 L230,850.08 L231,850.85 L232,851.81 L233,852.95 L234,854.28 L235,855.79 L236,857.47 L237,859.33 L238,861.34 L239,863.52 L240,865.86 L241,868.35 L242,870.98 L243,873.76 L244,876.68 L245,879.73 L246,882.91 L247,886.22 L248,889.65 L249,893.19 L250,896.85 L251,900.62 L252,904.49 L253,908.46 L254,912.52 L255,916.66 L256,920.83 L257,925.00 L258,929.11 L259,933.12 L260,936.99 L261,940.67 L262,944.11 L263,947.30 L264,950.20 L265,952.79 L266,955.05 L267,956.97 L268,958.57 L269,959.89 L270,960.93 L271,961.73 L272,962.31 L273,962.69 L274,962.91 L275,962.99 L276,962.96 L277,962.84 L278,962.67 L279,962.46 L280,962.25 L281,962.04 L282,961.85 L283,961.69 L284,961.58 L285,961.53 L286,961.56 L287,961.67 L288,961.89 L289,962.23 L290,962.73 L291,963.41 L292,964.28 L293,965.37 L294,966.70 L295,968.24 L296,969.95 L297,971.81 L298,973.78 L299,975.82 L300,977.92 L301,980.06 L302,982.26 L303,984.48 L304,986.75 L305,989.03 L306,991.34 L307,993.67 L308,996.01 L309,998.35 L310,1000.68 L311,1003.02 L312,1005.35 L313,1007.67 L314,1009.99 L315,1012.30 L316,1014.61 L317,1016.92 L318,1019.21 L319,1021.51 L320,1023.80 L321,1026.08 L322,1028.36 L323,1030.63 L324,1032.90 L325,1035.16 L326,1037.42 L327,1039.67 L328,1041.92 L329,1044.16 L330,1046.40 L331,1048.63 L332,1050.85 L333,1053.07 L334,1055.29 L335,1057.50 L336,1059.70 L337,1061.90 L338,1064.09 L339,1066.28 L340,1068.46 L341,1070.64 L342,1072.81 L343,1074.97 L344,1077.13 L345,1079.29 L346,1081.44 L347,1083.58 L348,1085.72 L349,1087.85 L350,1089.98 L351,1092.10 L352,1094.21 L353,1096.32 L354,1098.43 L355,1100.53 L356,1102.62 L357,1104.71 L358,1106.79 L359,1108.87 L360,1110.95 L361,1113.02 L362,1115.08 L363,1117.14 L364,1119.19 L365,1121.24 L366,1123.28 L367,1125.32 L368,1127.36 L369,1129.38 L370,1131.41 L371,1133.43 L372,1135.44 L373,1137.45 L374,1139.46 L375,1141.46 L376,1143.46 L377,1145.45 L378,1147.43 L379,1149.42 L380,1151.40 L381,1153.37 L382,1155.34 L383,1157.30 L384,1159.26 L385,1161.22 L386,1163.17 L387,1165.12 L388,1167.06 L389,1169.00 L390,1170.94 L391,1172.87 L392,1174.79 L393,1176.72 L394,1178.64 L395,1180.55 L396,1182.46 L397,1184.37 L398,1186.26 L399,1188.16 L400,1190.04 L401,1191.92 L402,1193.78 L403,1195.64 L404,1197.49 L405,1199.32 L406,1201.15 L407,1202.96 L408,1204.76 L409,1206.55 L410,1208.32 L411,1210.08 L412,1211.82 L413,1213.55 L414,1215.26 L415,1216.95 L416,1218.62 L417,1220.28 L418,1221.92 L419,1223.53 L420,1225.13 L421,1226.70 L422,1228.25 L423,1229.78 L424,1231.29 L425,1232.77 L426,1234.23 L427,1235.66 L428,1237.06 L429,1238.44 L430,1239.79 L431,1241.12 L432,1242.41 L433,1243.68 L434,1244.92 L435,1246.13 L436,1247.31 L437,1248.46 L438,1249.58 L439,1250.67 L440,1251.73 L441,1252.75 L442,1253.75 L443,1254.71 L444,1255.64 L445,1256.54 L446,1257.41 L447,1258.24 L448,1259.04 L449,1259.80 L450,1260.53 L451,1261.23 L452,1261.89 L453,1262.51 L454,1263.10 L455,1263.65 L456,1264.17 L457,1264.65 L458,1265.09 L459,1265.49 L460,1265.85 L461,1266.18 L462,1266.47 L463,1266.72 L464,1266.93 L465,1267.10 L466,1267.23 L467,1267.31 L468,1267.36 L469,1267.37 L470,1267.34 L471,1267.27 L472,1267.16 L473,1267.02 L474,1266.85 L475,1266.65 L476,1266.42 L477,1266.16 L478,1265.88 L479,1265.57 L480,1265.23 L481,1264.88 L482,1264.51 L483,1264.11 L484,1263.71 L485,1263.28 L486,1262.84 L487,1262.39 L488,1261.93 L489,1261.47 L490,1260.99 L491,1260.51 L492,1260.02 L493,1259.53 L494,1259.04 L495,1258.56 L496,1258.07 L497,1257.59 L498,1257.11 L499,1256.64 L500,1256.18 L501,1255.73 L502,1255.29 L503,1254.86 L504,1254.45 L505,1254.05 L506,1253.68 L507,1253.32 L508,1252.98 L509,1252.67 L510,1252.38 L511,1252.11 L512,1251.88 L513,1251.67 L514,1251.49 L515,1251.35 L516,1251.24 L517,1251.16 L518,1251.12 L519,1251.12 L520,1251.16 L521,1251.25 L522,1251.37 L523,1251.54 L524,1251.53 L525,1251.59 L526,1251.66 L527,1251.73 L528,1251.83 L529,1251.93 L530,1252.04 L531,1252.17 L532,1252.31 L533,1252.47 L534,1252.64 L535,1252.82 L536,1253.02 L537,1253.23 L538,1253.46 L539,1253.70 L540,1253.96 L541,1254.23 L542,1254.52 L543,1254.83 L544,1255.15 L545,1255.49 L546,1255.85 L547,1256.23 L548,1256.63 L549,1257.04 L550,1257.47 L551,1257.93 L552,1258.40 L553,1258.89 L554,1259.40 L555,1259.93 L556,1260.49 L557,1261.06 L558,1261.66 L559,1262.28 L560,1262.92 L561,1263.58 L562,1264.27 L563,1264.97 L564,1265.71 L565,1266.46 L566,1267.24 L567,1268.05 L568,1268.88 L569,1269.73 L570,1270.61 L571,1271.52 L572,1272.45 L573,1273.41 L574,1274.39 L575,1275.41 L576,1276.45 L577,1277.51 L578,1278.61 L579,1279.73 L580,1280.88 L581,1282.07 L582,1283.28 L583,1284.52 L584,1285.79 L585,1287.09 L586,1288.42 L587,1289.78 L588,1291.17 L589,1292.60 L590,1294.05 L591,1295.54 L592,1297.07 L593,1298.62 L594,1300.21 L595,1301.83 L596,1303.48 L597,1305.17 L598,1306.90 L599,1308.65 L600,1310.45 L601,1312.28 L602,1314.14 L603,1316.04 L604,1317.98 L605,1319.95 L606,1321.97 L606.5,1322.98"/>
<path d="M226,975.48 L227,975.86 L228,976.17 L229,976.41 L230,976.60 L231,976.73 L232,976.81 L233,976.84 L234,976.83 L235,976.78 L236,976.69 L237,976.57 L238,976.43 L239,976.26 L240,976.07 L241,975.87 L242,975.66 L243,975.44 L244,975.21 L245,974.99 L246,974.77 L247,974.57 L248,974.37 L249,974.19 L250,974.03 L251,973.90 L252,973.80 L253,973.73 L254,973.69 L255,973.70 L256,973.76 L257,973.88 L258,974.11 L259,974.48 L260,975.02 L261,975.79 L262,976.81 L263,978.12 L264,979.77 L265,981.78 L266,984.20 L267,987.05 L268,990.33 L269,993.99 L270,998.00 L271,1002.32 L272,1006.92 L273,1011.75 L274,1016.78 L275,1021.98 L276,1027.29 L277,1032.70 L278,1038.15 L279,1043.64 L280,1049.16 L281,1054.70 L282,1060.27 L283,1065.86 L284,1071.48 L285,1077.12 L286,1082.78 L287,1088.46 L288,1094.15 L289,1099.86 L290,1105.59 L291,1111.33 L292,1117.09 L293,1122.85 L294,1128.62 L295,1134.40 L296,1140.19 L297,1145.99 L298,1151.78 L299,1157.58 L300,1163.38 L301,1169.18 L302,1174.98 L303,1180.77 L304,1186.56 L305,1192.35 L306,1198.12 L307,1203.89 L308,1209.65 L309,1215.40 L310,1221.13 L311,1226.85 L312,1232.55 L313,1238.24 L314,1243.90 L315,1249.55 L316,1255.18 L317,1260.78 L318,1266.36 L319,1271.91 L320,1277.44 L321,1282.94 L322,1288.41 L323,1293.85 L324,1299.25 L325,1304.62 L326,1309.96 L327,1315.26 L328,1320.52 L329,1325.74 L329.82,1329.99"/>
<path d="M787.9,1322.02 L788.9,1318.67 L789.9,1315.33 L790.9,1311.98 L791.9,1308.64 L792.9,1305.31 L793.9,1301.97 L794.9,1298.65 L795.9,1295.32 L796.9,1292.00 L797.9,1288.68 L798.9,1285.37 L799.9,1282.06 L800.9,1278.75 L801.9,1275.45 L802.9,1272.16 L803.9,1268.87 L804.9,1265.58 L805.9,1262.30 L806.9,1259.02 L807.9,1255.75 L808.9,1252.48 L809.9,1249.22 L810.9,1245.97 L811.9,1242.72 L812.9,1239.47 L813.9,1236.23 L814.9,1233.00 L815.9,1229.77 L816.9,1226.55 L817.9,1223.33 L818.9,1220.12 L819.9,1216.91 L820.9,1213.71 L821.9,1210.52 L822.9,1207.34 L823.9,1204.16 L824.9,1200.98 L825.9,1197.82 L826.9,1194.66 L827.9,1191.51 L828.9,1188.36 L829.9,1185.22 L830.9,1182.09 L831.9,1178.97 L832.9,1175.85 L833.9,1172.74 L834.9,1169.64 L835.9,1166.55 L836.9,1163.46 L837.9,1160.38 L838.9,1157.31 L839.9,1154.25 L840.9,1151.20 L841.9,1148.15 L842.9,1145.11 L843.9,1142.08 L844.9,1139.06 L845.9,1136.05 L846.9,1133.04 L847.9,1130.05 L848.9,1127.06 L849.9,1124.09 L850.9,1121.12 L851.9,1118.16 L852.9,1115.21 L853.9,1112.27 L854.9,1109.34 L855.9,1106.42 L856.9,1103.50 L857.9,1100.60 L858.9,1097.71 L859.9,1094.83 L860.9,1091.95 L861.9,1089.09 L862.9,1086.24 L863.9,1083.40 L864.9,1080.57 L865.9,1077.75 L866.9,1074.94 L867.9,1072.14 L868.9,1069.35 L869.9,1066.57 L870.9,1063.80 L871.9,1061.05 L872.9,1058.30 L873.9,1055.58 L874.9,1052.86 L875.9,1050.17 L876.9,1047.49 L877.9,1044.83 L878.9,1042.19 L879.9,1039.58 L880.9,1036.98 L881.9,1034.41 L882.9,1031.86 L883.9,1029.34 L884.9,1026.84 L885.9,1024.38 L886.9,1021.94 L887.9,1019.53 L888.9,1017.16 L889.9,1014.82 L890.9,1012.51 L891.9,1010.23 L892.9,1008.00 L893.9,1005.80 L894.9,1003.64 L895.9,1001.51 L896.9,999.43 L897.9,997.39 L898.9,995.40 L899.9,993.45 L900.9,991.54 L901.9,989.68 L902.9,987.87 L903.9,986.10 L904.9,984.39 L905.9,982.73 L906.9,981.12 L907.9,979.56 L908.9,978.05 L909.9,976.59 L910.9,975.18 L911.9,973.83 L912.9,972.52 L913.9,971.26 L914.9,970.04 L915.9,968.88 L916.9,967.76 L917.9,966.68 L918.9,965.66 L919.9,964.67 L920.9,963.73 L921.9,962.84 L922.9,961.99 L923.9,961.18 L924.9,960.41 L925.9,959.69 L926.9,959.00 L927.9,958.36 L928.9,957.76 L929.9,957.19 L930.9,956.67 L931.9,956.18 L932.9,955.73 L933.9,955.32 L934.9,954.94 L935.9,954.60 L936.9,954.29 L937.9,954.02 L938.9,953.78 L939.9,953.57 L940.9,953.38 L941.9,953.23 L942.9,953.10 L943.9,953.00 L944.9,952.92 L945.9,952.87 L946.9,952.83 L947.9,952.82 L948.9,952.83 L949.9,952.86 L950.9,952.90 L951.9,952.96 L952.9,953.04 L953.9,953.13 L954.9,953.23 L955.9,953.34 L956.9,953.46 L957.9,953.59 L958.9,953.73 L959.9,953.88 L960.9,954.03 L961.9,954.18 L962.9,954.34 L963.9,954.50 L964.9,954.66 L965.9,954.82 L966.9,954.98 L967.9,955.14 L968.9,955.28 L969.9,955.42 L970.9,955.53 L971.9,955.60 L972.9,955.64 L973.9,955.63 L974.9,955.56 L975.9,955.43 L976.9,955.23 L977.9,954.94 L978.9,954.57 L979.9,954.09 L980.9,953.52 L981.9,952.82 L982.9,952.01 L983.9,951.06 L984.9,949.96 L985.9,948.69 L986.9,947.23 L987.9,945.55 L988.9,943.64 L989.9,941.48 L990.9,939.04 L991.9,936.32 L992.9,933.28 L993.9,929.98 L994.9,926.51 L995.9,922.94 L996.9,919.36 L997.9,915.80 L998.9,912.30 L999.9,908.89 L1000.9,905.59 L1001.9,902.41 L1002.9,899.34 L1003.9,896.37 L1004.9,893.49 L1005.9,890.69 L1006.9,887.96 L1007.9,885.28 L1008.9,882.66 L1009.9,880.07 L1010.9,877.51 L1011.9,874.97 L1012.9,872.43 L1013.9,869.89 L1014.9,867.35 L1015.9,864.81 L1016.9,862.29 L1017.9,859.80 L1018.9,857.34 L1019.9,854.92 L1020.9,852.55 L1021.9,850.25 L1022.9,848.01 L1023.9,845.85 L1024.9,843.78 L1025.9,841.80 L1026.9,839.92 L1027.9,838.16 L1028.9,836.51 L1029.9,835.00 L1030.9,833.63 L1031.9,832.40 L1032.9,831.33 L1033.9,830.43 L1034.9,829.70 L1035.9,829.15 L1036.9,828.79 L1037.9,828.63 L1038.9,828.68 L1039,828.70"/>
<path d="M915,1322.00 L916,1316.41 L917,1310.88 L918,1305.40 L919,1299.96 L920,1294.58 L921,1289.24 L922,1283.94 L923,1278.69 L924,1273.48 L925,1268.30 L926,1263.16 L927,1258.06 L928,1252.99 L929,1247.95 L930,1242.93 L931,1237.95 L932,1232.99 L933,1228.05 L934,1223.13 L935,1218.23 L936,1213.35 L937,1208.49 L938,1203.64 L939,1198.80 L940,1193.97 L941,1189.15 L942,1184.33 L943,1179.52 L944,1174.72 L945,1169.91 L946,1165.10 L947,1160.28 L948,1155.47 L949,1150.64 L950,1145.81 L951,1140.96 L952,1136.10 L953,1131.23 L954,1126.34 L955,1121.43 L956,1116.50 L957,1111.55 L958,1106.58 L959,1101.58 L960,1096.57 L961,1091.55 L962,1086.52 L963,1081.49 L964,1076.47 L965,1071.46 L966,1066.48 L967,1061.51 L968,1056.58 L969,1051.68 L970,1046.83 L971,1042.02 L972,1037.27 L973,1032.58 L974,1027.95 L975,1023.39 L976,1018.91 L977,1014.52 L978,1010.22 L979,1006.03 L980,1001.98 L981,998.08 L982,994.34 L983,990.78 L984,987.43 L985,984.29 L986,981.39 L987,978.73 L988,976.33 L989,974.13 L990,972.07 L991,970.08 L992,968.11 L993,966.08 L994,963.95 L995,961.63 L996,959.10 L997,956.35 L998,953.40 L999,950.28 L1000,947.00 L1001,943.58 L1002,940.04 L1003,936.41 L1004,932.71 L1005,928.95 L1006,925.16 L1007,921.37 L1008,917.59 L1009,913.84 L1010,910.15 L1011,906.52 L1012,902.97 L1013,899.50 L1014,896.10 L1015,892.79 L1016,889.57 L1017,886.45 L1018,883.42 L1019,880.49 L1020,877.66 L1021,874.95 L1022,872.35 L1023,869.86 L1024,867.50 L1025,865.26 L1026,863.15 L1027,861.18 L1028,859.34 L1029,857.65 L1030,856.10 L1031,854.70 L1032,853.45 L1033,852.36 L1034,851.43 L1035,850.67 L1036,850.08 L1037,849.66 L1038,849.42 L1039,849.36"/>
<path d="M918,1322.00 L919,1317.83 L920,1313.65 L921,1309.45 L922,1305.24 L923,1301.02 L924,1296.79 L925,1292.54 L926,1288.28 L927,1284.01 L928,1279.72 L929,1275.43 L930,1271.12 L931,1266.80 L932,1262.47 L933,1258.13 L934,1253.79 L935,1249.43 L936,1245.06 L937,1240.68 L938,1236.30 L939,1231.91 L940,1227.51 L941,1223.10 L942,1218.69 L943,1214.26 L944,1209.84 L945,1205.40 L946,1200.96 L947,1196.51 L948,1192.06 L949,1187.61 L950,1183.15 L951,1178.68 L952,1174.21 L953,1169.74 L954,1165.26 L955,1160.77 L956,1156.28 L957,1151.78 L958,1147.28 L959,1142.76 L960,1138.24 L961,1133.72 L962,1129.18 L963,1124.64 L964,1120.09 L965,1115.53 L966,1110.96 L967,1106.38 L968,1101.79 L969,1097.19 L970,1092.59 L971,1087.97 L972,1083.34 L973,1078.70 L974,1074.04 L975,1069.38 L976,1064.70 L977,1060.01 L978,1055.31 L979,1050.60 L980,1045.87 L981,1041.13 L982,1036.38 L983,1031.61 L984,1026.82 L985,1022.01 L986,1017.17 L987,1012.29 L988,1007.36 L989,1002.39 L990,997.38 L991,992.62 L992,988.52 L993,985.15 L994,982.41 L995,980.24 L996,978.55 L997,977.27 L998,976.31 L999,975.60 L1000,975.05 L1001,974.61 L1002,974.24 L1003,973.94 L1004,973.70 L1005,973.53 L1006,973.41 L1007,973.33 L1008,973.31 L1009,973.32 L1010,973.37 L1011,973.44 L1012,973.54 L1013,973.66 L1014,973.80 L1015,973.94 L1016,974.09 L1017,974.24 L1018,974.38 L1019,974.51 L1020,974.63 L1021,974.73 L1022,974.82 L1023,974.90 L1024,974.96 L1025,975.02 L1026,975.07 L1027,975.11 L1028,975.14 L1029,975.17 L1030,975.20 L1031,975.21 L1032,975.23 L1033,975.25 L1034,975.26 L1035,975.27 L1036,975.29 L1037,975.31 L1038,975.33 L1038.5,975.34"/>
</g>
<g clip-path="url(#ax)" stroke="#000" stroke-opacity="0.8" stroke-width="7.7">
<line x1="225.0" y1="41.0" x2="225.0" y2="1316.0"/>
<line x1="523.0" y1="41.0" x2="523.0" y2="1316.0"/>
<line x1="695.0" y1="41.0" x2="695.0" y2="1316.0"/>
<line x1="1039.0" y1="41.0" x2="1039.0" y2="1316.0"/>
</g>
<g fill="#000" shape-rendering="crispEdges">
<rect x="208" y="39" width="17" height="4"/>
<rect x="215" y="82" width="10" height="3"/>
<rect x="215" y="125" width="10" height="3"/>
<rect x="215" y="167" width="10" height="3"/>
<rect x="215" y="210" width="10" height="3"/>
<rect x="208" y="251" width="17" height="4"/>
<rect x="215" y="295" width="10" height="3"/>
<rect x="215" y="337" width="10" height="3"/>
<rect x="215" y="380" width="10" height="3"/>
<rect x="215" y="422" width="10" height="3"/>
<rect x="208" y="464" width="17" height="4"/>
<rect x="215" y="507" width="10" height="3"/>
<rect x="215" y="550" width="10" height="3"/>
<rect x="215" y="592" width="10" height="3"/>
<rect x="215" y="635" width="10" height="3"/>
<rect x="208" y="676" width="17" height="4"/>
<rect x="215" y="720" width="10" height="3"/>
<rect x="215" y="762" width="10" height="3"/>
<rect x="215" y="805" width="10" height="3"/>
<rect x="215" y="847" width="10" height="3"/>
<rect x="208" y="889" width="17" height="4"/>
<rect x="215" y="932" width="10" height="3"/>
<rect x="215" y="975" width="10" height="3"/>
<rect x="215" y="1017" width="10" height="3"/>
<rect x="215" y="1060" width="10" height="3"/>
<rect x="208" y="1101" width="17" height="4"/>
<rect x="215" y="1145" width="10" height="3"/>
<rect x="215" y="1187" width="10" height="3"/>
<rect x="215" y="1230" width="10" height="3"/>
<rect x="215" y="1272" width="10" height="3"/>
<rect x="208" y="1314" width="17" height="4"/>
<rect x="223" y="1316" width="4" height="18"/>
<rect x="521" y="1316" width="4" height="18"/>
<rect x="693" y="1316" width="4" height="18"/>
<rect x="1037" y="1316" width="4" height="18"/>
</g>
<rect x="225.0" y="41.0" width="814.0" height="1275.0" fill="none" stroke="#000" stroke-width="4" stroke-linejoin="miter" shape-rendering="crispEdges"/>
<g font-size="91.67" text-anchor="end">
<text x="188.5" y="69.50">3</text>
<text x="188.5" y="282.00">2</text>
<text x="188.5" y="494.50">1</text>
<text x="188.5" y="707.00">0</text>
<text y="919.50"><tspan x="145.16">-</tspan><tspan x="188.5">1</tspan></text>
<text y="1132.00"><tspan x="145.16">-</tspan><tspan x="188.5">2</tspan></text>
<text y="1344.50"><tspan x="145.16">-</tspan><tspan x="188.5">3</tspan></text>
</g>
<g font-size="91.67" text-anchor="middle">
<text x="229.0" y="1410.5">Γ</text>
<text x="524.0" y="1410.5">M</text>
<text x="697.0" y="1410.5">K</text>
<text x="1042.0" y="1410.5">Γ</text>
</g>
<text font-size="91.67" transform="translate(70.0,913.5) rotate(-90)"><tspan letter-spacing="-1.2">Energy</tspan><tspan x="283.20" letter-spacing="-2.07"> [eV]</tspan></text>
</svg>
</body>
</html>
